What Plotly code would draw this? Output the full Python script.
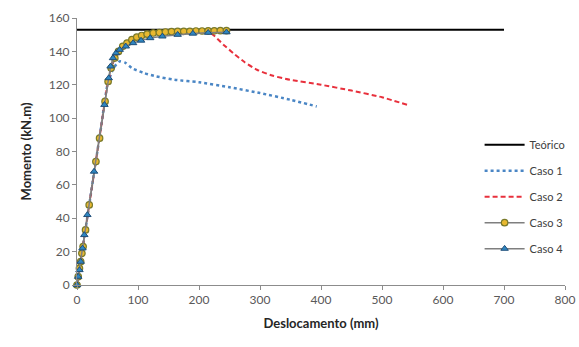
import plotly.graph_objects as go

teo_x = [0, 700]
teo_y = [153, 153]

c1_x = [0, 10, 20, 30, 40, 50, 60, 70, 80, 90, 110, 130, 160, 200, 250, 300, 350, 393]
c1_y = [0, 24, 48, 72, 96, 120, 130, 134, 133, 130, 127, 125, 123, 121.5, 118.5, 115, 111, 107]

c2_x = [0, 10, 20, 30, 40, 50, 60, 70, 80, 100, 130, 160, 190, 215, 226, 240, 256, 275, 295, 320, 349, 400, 450, 500, 541]
c2_y = [0, 24, 48, 72, 96, 120, 134, 140, 144, 148, 150.5, 151.5, 152, 152, 149, 144, 139, 133.5, 129, 125.5, 123, 120, 116.5, 112.5, 108]

c3_x = [0, 2, 4, 6, 8, 10, 14, 20, 31, 37, 46, 51, 56, 62, 68, 75, 82, 90, 98, 106, 115, 125, 135, 145, 155, 165, 175, 185, 195, 205, 215, 225, 235, 245]
c3_y = [0, 5, 10, 14, 19, 23, 33, 48, 74, 88, 110, 122, 130, 136, 140, 143, 145, 147, 148.5, 149.5, 150.3, 151, 151.3, 151.6, 151.8, 152, 152, 152, 152.2, 152.2, 152.3, 152.3, 152.4, 152.4]

c4_x = [0, 2, 4, 6, 9, 12, 17, 28, 45, 52, 55, 59, 64, 70, 80, 92, 105, 120, 140, 165, 190, 215, 245]
c4_y = [0, 5, 9, 14, 22, 30, 42, 68, 108, 124, 131, 136, 139, 141, 143, 145, 146.5, 148, 149, 150, 150.7, 151.2, 151.5]

font_fam = "Lato, sans-serif"

fig = go.Figure()
fig.add_trace(go.Scatter(x=teo_x, y=teo_y, mode="lines", name="Teórico",
                         line=dict(color="#000000", width=2), legendgroup="a"))
fig.add_trace(go.Scatter(x=c1_x, y=c1_y, mode="lines", name="Caso 1",
                         line=dict(color="#4a86c5", width=2.5, dash="dot", shape="spline", smoothing=0.6),
                         legendgroup="b"))
fig.add_trace(go.Scatter(x=c2_x, y=c2_y, mode="lines", name="Caso 2",
                         line=dict(color="#e8303c", width=2, dash="5px,3px", shape="spline", smoothing=0.5),
                         legendgroup="c"))
fig.add_trace(go.Scatter(x=c3_x, y=c3_y, mode="lines+markers", name="Caso 3",
                         line=dict(color="#7f7f7f", width=1.5),
                         marker=dict(symbol="circle", size=6.5, color="#e8b830",
                                     line=dict(color="#7a7a2a", width=1.2)),
                         legendgroup="d", cliponaxis=False))
fig.add_trace(go.Scatter(x=c4_x, y=c4_y, mode="lines+markers", name="Caso 4",
                         line=dict(color="#7f7f7f", width=1.5),
                         marker=dict(symbol="triangle-up", size=6.5, color="#2e86c1",
                                     line=dict(color="#1f4e79", width=1)),
                         legendgroup="e", cliponaxis=False))

axis_common = dict(showline=True, linecolor="#8c8c8c", linewidth=1, ticks="outside",
                   tickcolor="#8c8c8c", ticklen=4, showgrid=False, zeroline=False,
                   tickfont=dict(family=font_fam, size=12, color="#595959"))

fig.update_layout(
    width=579, height=347,
    margin=dict(l=77, r=14, t=18, b=62, autoexpand=False),
    paper_bgcolor="white", plot_bgcolor="white",
    xaxis=dict(range=[0, 800], dtick=100, tick0=0,
               title=dict(text="<b>Deslocamento (mm)</b>", standoff=12,
                          font=dict(family=font_fam, size=13, color="#262626")),
               **axis_common),
    yaxis=dict(range=[0, 160], dtick=20, tick0=0,
               title=dict(text="<b>Momento (kN.m)</b>", standoff=14,
                          font=dict(family=font_fam, size=13, color="#262626")),
               **axis_common),
    legend=dict(x=0.825, y=0.58, xanchor="left", yanchor="top",
                font=dict(family=font_fam, size=11, color="#404040"),
                bgcolor="rgba(255,255,255,0)", tracegroupgap=7, itemwidth=40),
    showlegend=True,
)

fig.write_html("out.html")
